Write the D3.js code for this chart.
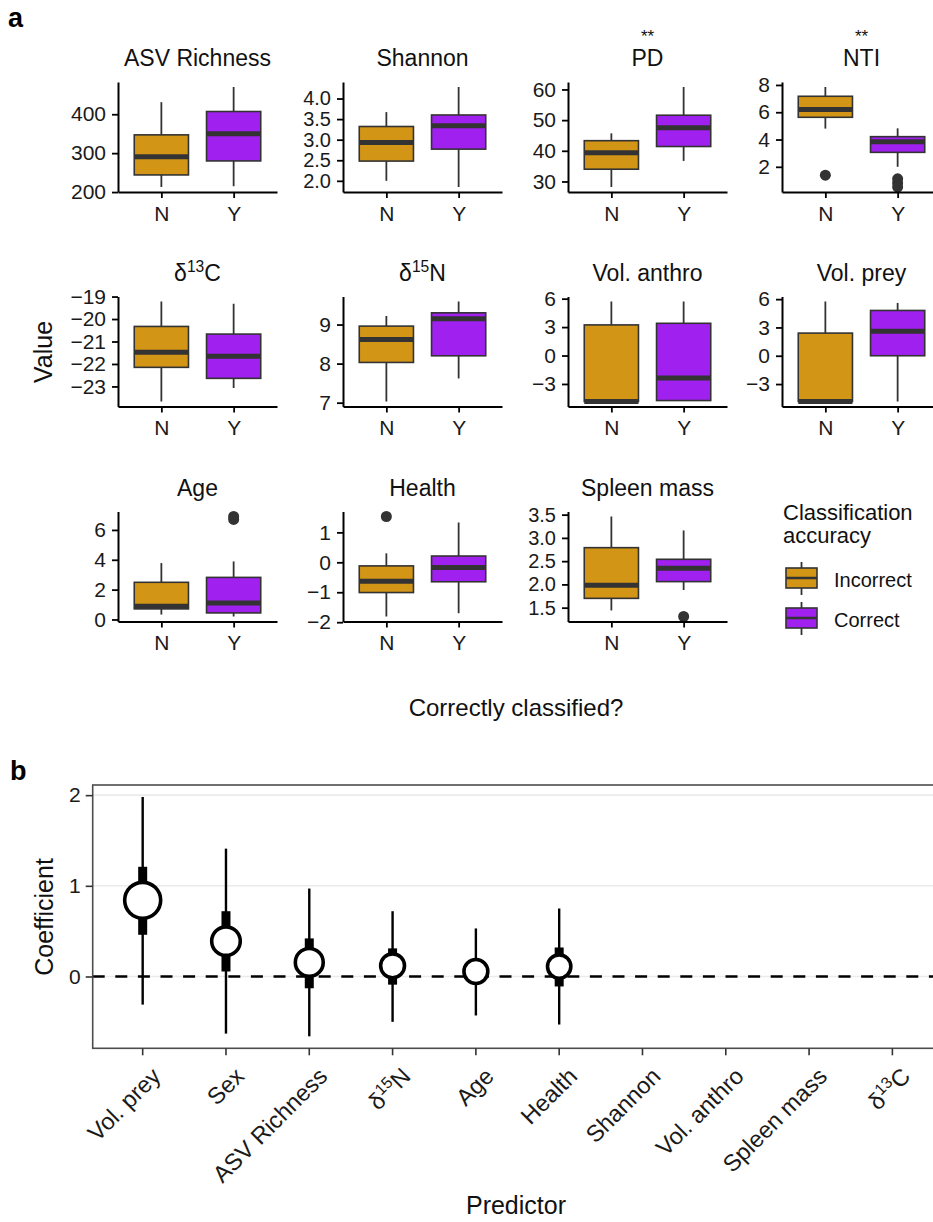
<!DOCTYPE html>
<html>
<head>
<meta charset="utf-8">
<script src="https://cdn.jsdelivr.net/npm/d3@7"></script>
<style>
  body { margin: 0; background: #fff; }
  text { font-family: "Liberation Sans", Arial, sans-serif; }
</style>
</head>
<body>
<svg id="fig" width="933" height="1222"></svg>
<script>
'use strict';

// ---- panel a data: box summaries [lower whisker, Q1, median, Q3, upper whisker]
const variables = ['ASV Richness', 'Shannon', 'PD', 'NTI', 'δ13C', 'δ15N',
  'Vol. anthro', 'Vol. prey', 'Age', 'Health', 'Spleen mass'];
const groups = ['N', 'Y'];
const groupNames = ['Incorrect', 'Correct'];
const signif = ['', '', '**', '**', '', '', '', '', '', '', ''];

const boxN = [
  [213, 244, 291, 347, 431],
  [2.0, 2.48, 2.93, 3.32, 3.67],
  [28.2, 34.0, 39.4, 43.3, 45.7],
  [4.8, 5.63, 6.2, 7.17, 7.85],
  [-23.67, -22.15, -21.48, -20.33, -19.22],
  [7.03, 8.03, 8.62, 8.96, 9.22],
  [-4.85, -4.85, -4.85, 3.23, 5.7],
  [-4.85, -4.85, -4.85, 2.4, 5.75],
  [0.33, 0.71, 0.89, 2.49, 3.78],
  [-1.81, -1.01, -0.63, -0.12, 0.3],
  [1.44, 1.70, 1.98, 2.79, 3.46]
];
const boxY = [
  [215, 280, 350, 407, 470],
  [1.85, 2.77, 3.34, 3.6, 4.28],
  [36.7, 41.4, 47.5, 51.6, 60.8],
  [2.0, 3.06, 3.84, 4.21, 4.82],
  [-23.07, -22.64, -21.66, -20.67, -19.32],
  [7.62, 8.2, 9.15, 9.3, 9.59],
  [-4.75, -4.75, -2.37, 3.4, 5.7],
  [-4.85, 0, 2.6, 4.8, 5.6],
  [0.2, 0.44, 1.11, 2.82, 3.89],
  [-1.7, -0.65, -0.17, 0.21, 1.33],
  [1.88, 2.06, 2.35, 2.54, 3.16]
];
const outN = [[], [], [], [1.39], [], [], [], [], [], [1.53], []];
const outY = [[], [], [], [1.12, 0.82, 0.52], [], [], [], [], [6.9, 6.7], [], [1.31]];

const yTicks = [
  [200, 300, 400], [2, 2.5, 3, 3.5, 4], [30, 40, 50, 60], [2, 4, 6, 8],
  [-23, -22, -21, -20, -19], [7, 8, 9], [-3, 0, 3, 6], [-3, 0, 3, 6],
  [0, 2, 4, 6], [-2, -1, 0, 1], [1.5, 2, 2.5, 3, 3.5]
];
const oneDecimal = ['Shannon', 'Spleen mass'];

// ---- panel b data
const predictors = ['Vol. prey', 'Sex', 'ASV Richness', 'δ15N', 'Age', 'Health',
  'Shannon', 'Vol. anthro', 'Spleen mass', 'δ13C'];
const coef    = [0.84, 0.39, 0.155, 0.118, 0.055, 0.11, null, null, null, null];
const outerLo = [-0.31, -0.63, -0.66, -0.50, -0.43, -0.53, null, null, null, null];
const outerHi = [1.98, 1.41, 0.97, 0.72, 0.53, 0.75, null, null, null, null];
const innerLo = [0.46, 0.055, -0.13, -0.09, -0.06, -0.11, null, null, null, null];
const innerHi = [1.21, 0.72, 0.42, 0.31, 0.17, 0.32, null, null, null, null];
const importance = [1.0, 0.63, 0.6, 0.44, 0.44, 0.42, null, null, null, null];
const coefTicks = [0, 1, 2];

const fills = ['#d39516', '#a020f0'];
const boxLine = '#333333';
const axisText = '#1a1a1a';

const svg = d3.select('#fig');

// label with a superscript isotope number, e.g. δ13C
function richLabel(sel, label, size) {
  const m = label.match(/^δ(\d+)(\w)$/);
  if (!m) { sel.text(label); return; }
  sel.append('tspan').text('δ');
  sel.append('tspan').attr('font-size', size * 0.68).attr('dy', -size * 0.38).text(m[1]);
  sel.append('tspan').attr('dy', size * 0.38).text(m[2]);
}

// ---------------- panel a ----------------
svg.append('text').attr('x', 8).attr('y', 27)
  .attr('font-size', 27).attr('font-weight', 'bold').text('a');

const colX = [118, 343, 568, 782];
const rowTop = [82, 296.5, 511.5];
const pw = 159, ph = 110;

variables.forEach((v, i) => {
  const col = i % 4, row = Math.floor(i / 4);
  const g = svg.append('g').attr('transform', `translate(${colX[col]},${rowTop[row]})`);

  const all = boxN[i].concat(boxY[i], outN[i], outY[i]);
  const [lo, hi] = d3.extent(all);
  const pad = (hi - lo) * 0.05;
  const y = d3.scaleLinear().domain([lo - pad, hi + pad]).range([ph, 0]);
  const x = d3.scalePoint().domain(groups).range([0, pw]).padding(0.6);
  const bw = x.step() * 0.75;

  const stats = [boxN[i], boxY[i]];
  const outs = [outN[i], outY[i]];

  groups.forEach((grp, k) => {
    const s = stats[k], cx = x(grp);
    g.append('line').attr('x1', cx).attr('x2', cx)
      .attr('y1', y(s[0])).attr('y2', y(s[1]))
      .attr('stroke', boxLine).attr('stroke-width', 1.8);
    g.append('line').attr('x1', cx).attr('x2', cx)
      .attr('y1', y(s[3])).attr('y2', y(s[4]))
      .attr('stroke', boxLine).attr('stroke-width', 1.8);
    g.append('rect').attr('x', cx - bw / 2).attr('width', bw)
      .attr('y', y(s[3])).attr('height', y(s[1]) - y(s[3]))
      .attr('fill', fills[k]).attr('stroke', boxLine).attr('stroke-width', 1.6);
    g.append('line').attr('x1', cx - bw / 2).attr('x2', cx + bw / 2)
      .attr('y1', y(s[2])).attr('y2', y(s[2]))
      .attr('stroke', boxLine).attr('stroke-width', 5);
    g.selectAll(null).data(outs[k]).join('circle')
      .attr('cx', cx).attr('cy', d => y(d)).attr('r', 5.5).attr('fill', boxLine);
  });

  const fmt = oneDecimal.includes(v) ? d3.format('.1f') : d3.format('d');
  const ya = g.append('g')
    .call(d3.axisLeft(y).tickValues(yTicks[i]).tickFormat(fmt)
      .tickSize(6).tickSizeOuter(0).tickPadding(6));
  const xa = g.append('g').attr('transform', `translate(0,${ph})`)
    .call(d3.axisBottom(x).tickSize(6).tickSizeOuter(0).tickPadding(8));
  [ya, xa].forEach(a => {
    a.select('.domain').attr('stroke', '#000').attr('stroke-width', 2);
    a.selectAll('.tick line').attr('stroke', '#000').attr('stroke-width', 1.8);
    a.selectAll('.tick text').attr('fill', axisText)
      .attr('font-size', 21).attr('font-family', '"Liberation Sans", Arial, sans-serif');
  });
  // the crowded one-decimal labels sit a little tighter in the reference
  if (oneDecimal.includes(v)) ya.selectAll('.tick text').attr('font-size', 20);

  richLabel(g.append('text').attr('x', pw / 2).attr('y', -16)
    .attr('text-anchor', 'middle').attr('font-size', 23).attr('fill', '#111'), v, 23);
  if (signif[i]) {
    g.append('text').attr('x', pw / 2).attr('y', -40)
      .attr('text-anchor', 'middle').attr('font-size', 17).attr('fill', '#111').text(signif[i]);
  }
});

svg.append('text').attr('transform', 'translate(52,352) rotate(-90)')
  .attr('text-anchor', 'middle').attr('font-size', 25).attr('fill', '#111').text('Value');
svg.append('text').attr('x', 516).attr('y', 716)
  .attr('text-anchor', 'middle').attr('font-size', 24).attr('fill', '#111')
  .text('Correctly classified?');

// legend
const leg = svg.append('g');
leg.append('text').attr('x', 783).attr('y', 520).attr('font-size', 22).attr('fill', '#111')
  .text('Classification');
leg.append('text').attr('x', 783).attr('y', 543).attr('font-size', 22).attr('fill', '#111')
  .text('accuracy');
groupNames.forEach((name, k) => {
  const top = 568 + k * 40;
  leg.append('line').attr('x1', 801.5).attr('x2', 801.5)
    .attr('y1', top - 6).attr('y2', top + 27)
    .attr('stroke', boxLine).attr('stroke-width', 1.8);
  leg.append('rect').attr('x', 786).attr('y', top).attr('width', 31).attr('height', 20)
    .attr('fill', fills[k]).attr('stroke', boxLine).attr('stroke-width', 1.6);
  leg.append('line').attr('x1', 786).attr('x2', 817).attr('y1', top + 10).attr('y2', top + 10)
    .attr('stroke', boxLine).attr('stroke-width', 2.5);
  leg.append('text').attr('x', 834).attr('y', top + 19).attr('font-size', 20)
    .attr('fill', '#111').text(name);
});

// ---------------- panel b ----------------
svg.append('text').attr('x', 10).attr('y', 780)
  .attr('font-size', 27).attr('font-weight', 'bold').text('b');

const bL = 92.7, bT = 785, bB = 1048.3;
const valid = coef.map((c, i) => i).filter(i => coef[i] !== null);
const bLo = d3.min(valid, i => outerLo[i]), bHi = d3.max(valid, i => outerHi[i]);
const bPad = (bHi - bLo) * 0.05;
const yb = d3.scaleLinear().domain([bLo - bPad, bHi + bPad]).range([bB, bT]);
// 10 categories with 0.6 expansion on each side; the panel runs past the right edge
const bStep = 83.3;
const bR = bL + bStep * (predictors.length - 1 + 1.2);
const xb = d3.scalePoint().domain(predictors).range([bL, bR]).padding(0.6);
const rScale = d3.scaleSqrt().domain([0, 1]).range([0, 18]);

const gb = svg.append('g');
gb.selectAll('.grid').data(coefTicks).join('line')
  .attr('x1', bL).attr('x2', bR).attr('y1', d => yb(d)).attr('y2', d => yb(d))
  .attr('stroke', '#ebebeb').attr('stroke-width', 1.6);
gb.append('line').attr('x1', bL).attr('x2', bR).attr('y1', yb(0)).attr('y2', yb(0))
  .attr('stroke', '#000').attr('stroke-width', 2.6).attr('stroke-dasharray', '12,10.6');

valid.forEach(i => {
  const cx = xb(predictors[i]);
  gb.append('line').attr('x1', cx).attr('x2', cx)
    .attr('y1', yb(outerLo[i])).attr('y2', yb(outerHi[i]))
    .attr('stroke', '#000').attr('stroke-width', 2.4);
  gb.append('line').attr('x1', cx).attr('x2', cx)
    .attr('y1', yb(innerLo[i])).attr('y2', yb(innerHi[i]))
    .attr('stroke', '#000').attr('stroke-width', 9);
  gb.append('circle').attr('cx', cx).attr('cy', yb(coef[i]))
    .attr('r', rScale(importance[i]))
    .attr('fill', '#fff').attr('stroke', '#000').attr('stroke-width', 3.6);
});

gb.append('rect').attr('x', bL).attr('y', bT).attr('width', bR - bL).attr('height', bB - bT)
  .attr('fill', 'none').attr('stroke', '#4d4d4d').attr('stroke-width', 1.6);

const yaB = gb.append('g').attr('transform', `translate(${bL},0)`)
  .call(d3.axisLeft(yb).tickValues(coefTicks).tickFormat(d3.format('d'))
    .tickSize(7).tickSizeOuter(0).tickPadding(5));
yaB.select('.domain').remove();
yaB.selectAll('.tick line').attr('stroke', '#333').attr('stroke-width', 1.6);
yaB.selectAll('.tick text').attr('fill', axisText).attr('font-size', 21)
  .attr('font-family', '"Liberation Sans", Arial, sans-serif');

predictors.forEach(p => {
  const px = xb(p);
  gb.append('line').attr('x1', px).attr('x2', px).attr('y1', bB).attr('y2', bB + 7)
    .attr('stroke', '#333').attr('stroke-width', 1.6);
  const t = gb.append('text')
    .attr('transform', `translate(${px + 7},${bB + 17}) rotate(-45)`)
    .attr('text-anchor', 'end').attr('dy', '0.75em')
    .attr('font-size', 23.5).attr('fill', axisText);
  richLabel(t, p, 23.5);
});

svg.append('text').attr('transform', 'translate(53,917) rotate(-90)')
  .attr('text-anchor', 'middle').attr('font-size', 25).attr('fill', '#111').text('Coefficient');
svg.append('text').attr('x', 516).attr('y', 1214)
  .attr('text-anchor', 'middle').attr('font-size', 25).attr('fill', '#111').text('Predictor');
</script>
</body>
</html>
